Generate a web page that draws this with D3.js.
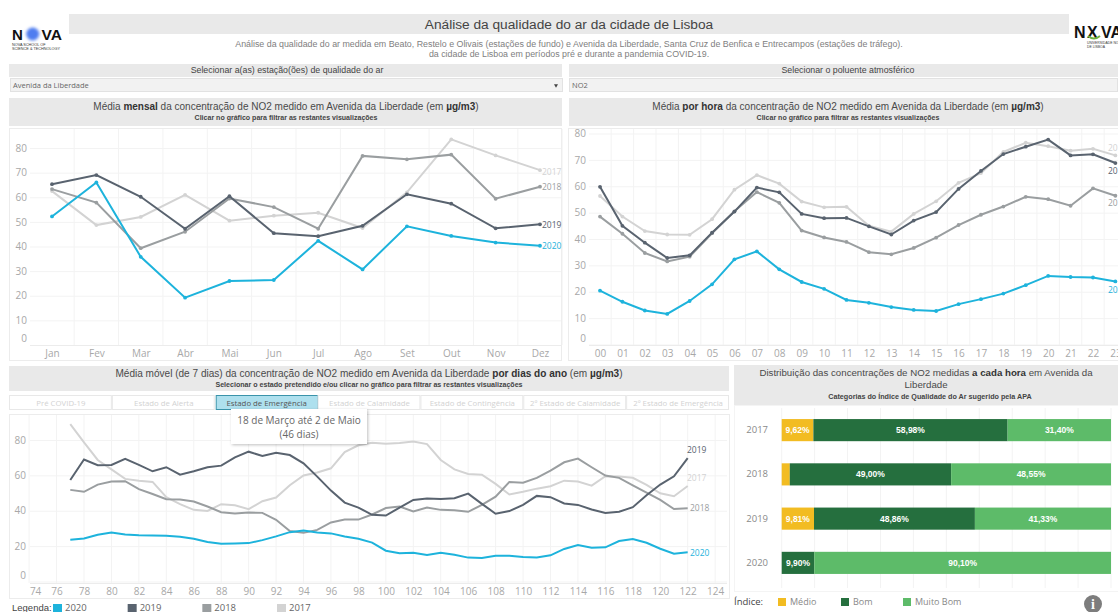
<!DOCTYPE html>
<html><head><meta charset="utf-8">
<script src="https://cdnjs.cloudflare.com/ajax/libs/d3/7.8.5/d3.min.js"></script>
<style>
html,body{margin:0;padding:0;background:#fff;overflow:hidden}
svg{display:block}
text{font-family:"Liberation Sans",Arial,sans-serif}
.tk text{font-family:"Open Sans",sans-serif;font-size:10px;fill:#a8a8a8}
</style></head><body>
<svg id="c" width="1118" height="612"></svg>
<script>
const months=["Jan","Fev","Mar","Abr","Mai","Jun","Jul","Ago","Set","Out","Nov","Dez"];
const hours=["00","01","02","03","04","05","06","07","08","09","10","11","12","13","14","15","16","17","18","19","20","21","22","23"];
const years=["2020","2019","2018","2017"];
const monthly2017=[62.5,48.7,52,61,50.5,52.5,53.7,47.5,62,83.5,77,71];
const monthly2018=[63.3,57.8,39.3,46,59.5,56,47.2,76.8,75.4,77.3,59.4,64.3];
const monthly2019=[65.3,69,60.2,47.2,60.4,45.4,44.2,48.4,61.2,57.4,47.4,49];
const monthly2020=[52.2,66,35.8,19.2,26,26.4,42.3,30.7,48.2,44.3,41.6,40.3];
const hourly2017=[56.3,48.5,43,41.7,41.6,47.5,58.7,64.2,61,54.2,52,52.2,45,42.8,49.5,54.3,61.3,65,73,76.5,75.2,73.5,74.2,71.7];
const hourly2018=[48.5,42,34.7,31.5,33.3,42.2,50.5,57.8,53.7,43.2,40.6,38.9,35,34.2,36.6,40.5,45.3,49.2,52.3,56,55.1,52.6,59.2,56.4];
const hourly2019=[59.8,45,38.6,32.8,33.8,42.4,50.4,59.5,57.7,49.5,47.9,48,44.8,41.7,47,50.2,59,65.8,72.2,75,77.7,71.7,72.1,68.8];
const hourly2020=[20.4,16.2,12.9,11.6,16.5,22.8,32.3,35.3,28.5,23.7,21.1,16.9,15.8,14.2,13.1,12.7,15.3,17.2,19.3,22.5,26,25.6,25.4,23.9];
const firstDay=77;
const daily2017=[89,78.7,68.7,63.4,58,57,56.3,47.7,43.7,40.5,39.9,43.7,43.1,40.9,45.4,47.5,54.4,59.9,61.6,64,73.2,77,78.5,77.9,78.3,79.2,77.7,68.7,63.4,60.8,60.4,55.2,49.2,50.7,52.5,53.9,57,56.5,54.2,59.5,59.3,58.6,54.6,49.9,48.2,54];
const daily2018=[51.8,50.7,54.8,56.5,56.7,52.2,49.5,46.5,46.3,45.2,42.4,39.2,38.4,39,38.8,34.9,28.5,27.5,29.2,33.4,35,35,37.9,41.5,42.4,39.6,41.8,40.5,40.3,39.4,43.3,48,56.3,55.9,58.6,62.7,67.4,69.5,64.6,59.9,58.6,54.4,50.3,46.1,41,41.4];
const daily2019=[57.4,69,65.7,65.9,69.4,65.9,62.3,64.6,60.4,62.3,64.6,65.5,70.2,73.4,71,72.8,71.5,66.8,59.3,51.4,44.6,41.8,37.7,37.3,41.8,46.1,46.9,46.7,47.1,49.7,43.9,38.3,39.8,43.3,48.4,47.7,44.1,43.3,40.7,38.8,39.4,42,48.8,54.8,59.5,69.8];
const daily2020=[23.6,24.3,26.4,27.7,26.6,26.2,26,25.8,25.3,24.2,22.3,21.3,21.5,21.7,23.4,25.5,27.9,28.8,27.7,27.2,25.5,24.2,22,17.4,16,16.3,15,16.3,15.1,13.5,13.3,14.6,14.6,13.8,13.6,14.8,18.4,20.6,19.1,19.3,22.9,24,21.9,18.5,15.7,16.5];
const days=daily2020.map((_,i)=>firstDay+i);
const dayTicks=[74,76,78,80,82,84,86,88,90,92,94,96,98,100,102,104,106,108,110,112,114,116,118,120,122,124];
const distYears=["2017","2018","2019","2020"];
const categories=["Médio","Bom","Muito Bom"];
const medio=[9.62,2.45,9.81,0];
const bom=[58.98,49.00,48.86,9.90];
const muitoBom=[31.40,48.55,41.33,90.10];
const medioLabels=["9,62%","","9,81%",""];
const bomLabels=["58,98%","49,00%","48,86%","9,90%"];
const muitoBomLabels=["31,40%","48,55%","41,33%","90,10%"];
const estados=["Pré COVID-19","Estado de Alerta","Estado de Emergência","Estado de Calamidade","Estado de Contingência","2º Estado de Calamidade","2º Estado de Emergência"];

const yearColor=d3.scaleOrdinal(years,["#1db3dc","#59636f","#9a9ea0","#d3d3d3"]);
const catColor=d3.scaleOrdinal(categories,["#f2bc22","#256f3e","#5dbb69"]);
const svg=d3.select("#c");
const HDR="#e9e9e9",TC="#4a4a4a",GRID="#f3f3f3",FRAME="#ececec";

function rect(x,y,w,h,fill,stroke){return svg.append("rect").attr("x",x).attr("y",y).attr("width",w).attr("height",h).attr("fill",fill).attr("stroke",stroke||"none");}
function text(x,y,parts,size,color,anchor,font){
  const t=svg.append("text").attr("x",x).attr("y",y).attr("font-size",size).attr("fill",color).attr("text-anchor",anchor||"middle");
  if(font)t.style("font-family",font);
  (Array.isArray(parts)?parts:[[parts,false]]).forEach(p=>{const s=t.append("tspan").text(p[0]);if(p[1])s.attr("font-weight","bold").attr("fill","#333");});
  return t;
}
// header
rect(69,14,1000,20,HDR);
text(569,29,"Análise da qualidade do ar da cidade de Lisboa",13.7,"#444");
text(569,47,"Análise da qualidade do ar medida em Beato, Restelo e Olivais (estações de fundo) e Avenida da Liberdade, Santa Cruz de Benfica e Entrecampos (estações de tráfego).",8.85,"#808080");
text(569,57,"da cidade de Lisboa em períodos pré e durante a pandemia COVID-19.",8.85,"#808080");

// logos
const defs=svg.append("defs");
defs.append("filter").attr("id","bl").attr("x","-50%").attr("y","-50%").attr("width","200%").attr("height","200%").append("feGaussianBlur").attr("stdDeviation",1.8);
const sh=defs.append("filter").attr("id","sh").attr("x","-10%").attr("y","-10%").attr("width","125%").attr("height","135%");
sh.append("feDropShadow").attr("dx",1).attr("dy",1).attr("stdDeviation",1.5).attr("flood-color","#000").attr("flood-opacity",.25);
svg.append("circle").attr("cx",32.7).attr("cy",34).attr("r",6.5).attr("fill","#4f7df0").attr("filter","url(#bl)");
text(12,39.8,"N",15,"#111","start").attr("font-weight","bold");
text(41.5,39.8,"VA",15,"#111","start").attr("font-weight","bold").attr("textLength",20.5).attr("lengthAdjust","spacingAndGlyphs");
text(12,46,"NOVA SCHOOL OF",3.8,"#333","start");
text(12,50,"SCIENCE & TECHNOLOGY",3.8,"#333","start");
text(1074,38,"N",16,"#111","start").attr("font-weight","bold");
text(1087,38,"X",16,"#111","start").attr("font-weight","bold");
svg.append("path").attr("d","M1088,36 Q1094,41 1100,36").attr("fill","none").attr("stroke","#6fb33f").attr("stroke-width",2);
text(1101,38,"VA",16,"#111","start").attr("font-weight","bold");
text(1087,43.5,"UNIVERSIDADE NOVA",3.4,"#333","start");
text(1087,47.5,"DE LISBOA",3.4,"#333","start");

// filters
rect(9,64,553,13,HDR); rect(569,64,549,13,HDR);
text(287,73,"Selecionar a(as) estação(ões) de qualidade do ar",8.8,"#444");
text(848,73,"Selecionar o poluente atmosférico",8.8,"#444");
rect(10.5,78.5,552,13,"#f2f2f2","#e2e2e2"); rect(569.5,78.5,548,13,"#f2f2f2","#e2e2e2");
text(13,88,"Avenida da Liberdade",7.5,"#666","start","'Open Sans',sans-serif");
text(572,88,"NO2",7.5,"#666","start","'Open Sans',sans-serif");
svg.append("path").attr("d",d3.symbol(d3.symbolTriangle,7)()).attr("transform","translate(556,85.5) rotate(180)").attr("fill","#444");

// panel headers
rect(9,98,553,28,HDR); rect(569,98,549,28,HDR);
text(286,110,[["Média ",0],["mensal",1],[" da concentração de NO2 medido em Avenida da Liberdade (em ",0],["µg/m3",1],[")",0]],10,TC);
text(286,120,"Clicar no gráfico para filtrar as restantes visualizações",7.05,"#444").attr("font-weight","bold");
text(848,110,[["Média ",0],["por hora",1],[" da concentração de NO2 medido em Avenida da Liberdade (em ",0],["µg/m3",1],[")",0]],10,TC);
text(848,120,"Clicar no gráfico para filtrar as restantes visualizações",7.05,"#444").attr("font-weight","bold");
rect(9.5,128.5,552,232,"#fff",FRAME); rect(568.5,128.5,560,232,"#fff",FRAME);

function styleAxis(g){g.classed("tk",true);g.select(".domain").remove();g.selectAll("line").attr("stroke",GRID);}
function zeroUp(g,dy){g.selectAll(".tick").filter(d=>d===0).select("text").attr("dy",dy);}

function linePanel(o){
  o.gridX.forEach(x=>svg.append("line").attr("x1",x).attr("x2",x).attr("y1",o.top).attr("y2",o.base).attr("stroke",GRID));
  const ga=svg.append("g").attr("transform",`translate(${o.left},0)`).call(d3.axisLeft(o.y).tickValues(o.yTicks).tickSize(-(o.right-o.left)).tickPadding(6));
  styleAxis(ga); ga.selectAll("text").attr("x",-(o.left-o.ylabelX)).attr("text-anchor","end"); zeroUp(ga,"-0.35em");
  const gb=svg.append("g").attr("transform",`translate(0,${o.base})`).call(o.xAxis.tickSize(0).tickPadding(5));
  styleAxis(gb);
  svg.append("line").attr("x1",o.left).attr("x2",o.right).attr("y1",o.base+.5).attr("y2",o.base+.5).attr("stroke",FRAME);
  const line=d3.line().x((d,i)=>o.px(o.keys[i])).y(d=>o.y(d));
  [...o.series].forEach(s=>{
    svg.append("path").datum(s.v).attr("d",line).attr("fill","none").attr("stroke",yearColor(s.n)).attr("stroke-width",o.w);
    if(o.dots)svg.append("g").selectAll("circle").data(s.v).join("circle").attr("cx",(d,i)=>o.px(o.keys[i])).attr("cy",d=>o.y(d)).attr("r",1.9).attr("fill",yearColor(s.n));
  });
  o.labels.forEach(l=>text(l.x,l.y,l.n,8.5,l.c||yearColor(l.n),"start","'Open Sans',sans-serif"));
}

// monthly
const xM=d3.scalePoint(months,[52,540]);
const yM=d3.scaleLinear([0,80],[345,148]);
linePanel({left:30,right:561,top:129,base:345,ylabelX:27,gridX:months.map(m=>xM(m)+22.2),y:yM,yTicks:[0,10,20,30,40,50,60,70,80],
  xAxis:d3.axisBottom(xM),px:d=>xM(d),keys:months,w:2,dots:true,
  series:[{n:"2017",v:monthly2017},{n:"2018",v:monthly2018},{n:"2019",v:monthly2019},{n:"2020",v:monthly2020}],
  labels:[{n:"2017",x:542,y:175},{n:"2018",x:542,y:190},{n:"2019",x:542,y:228,c:"#59636f"},{n:"2020",x:542,y:249}]});

// hourly
const xH=d3.scalePoint(hours,[600,1115.4]);
const yH=d3.scaleLinear([0,80],[344.5,133.5]);
linePanel({left:589,right:1118,top:129,base:345,ylabelX:586,gridX:hours.map(h=>xH(h)+11.2),y:yH,yTicks:[0,10,20,30,40,50,60,70,80],
  xAxis:d3.axisBottom(xH),px:d=>xH(d),keys:hours,w:2,dots:true,
  series:[{n:"2017",v:hourly2017},{n:"2018",v:hourly2018},{n:"2019",v:hourly2019},{n:"2020",v:hourly2020}],
  labels:[{n:"2017",x:1108,y:151},{n:"2019",x:1108,y:174,c:"#59636f"},{n:"2018",x:1108,y:206},{n:"2020",x:1108,y:293}]});

// daily header
rect(9,366,720,25,HDR);
text(369,377,[["Média móvel (de 7 dias) da concentração de NO2 medido em Avenida da Liberdade ",0],["por dias do ano",1],[" (em ",0],["µg/m3",1],[")",0]],10.05,TC);
text(369,387,"Selecionar o estado pretendido e/ou clicar no gráfico para filtrar as restantes visualizações",7.1,"#444").attr("font-weight","bold");

// state buttons
const xB=d3.scaleBand(estados,[9.5,729.5]);
estados.forEach((e,i)=>{
  const on=i===2;
  rect(xB(e)+(on?1:0),395.5,xB.bandwidth()-1,14,on?"#aee0ee":"#fff",on?"#3a93aa":"#e8e8e8");
  text(xB(e)+xB.bandwidth()/2,405.5,e,7.8,on?"#555":"#d2d2d2","middle","'Open Sans',sans-serif");
});

// daily
rect(9.5,414.5,720,184,"#fff",FRAME);
const xD=d3.scaleLinear([78,122],[84,687.7]);
const yD=d3.scaleLinear([0,80],[581.5,440]);
const fmtD=d3.axisBottom(xD).tickValues(dayTicks).tickFormat(d3.format("d"));
linePanel({left:30,right:727,top:415,base:583,ylabelX:26,gridX:dayTicks.map(d=>xD(d)),y:yD,yTicks:[0,20,40,60,80],
  xAxis:fmtD,px:d=>xD(d),keys:days,w:2,dots:false,
  series:[{n:"2017",v:daily2017},{n:"2018",v:daily2018},{n:"2019",v:daily2019},{n:"2020",v:daily2020}],
  labels:[{n:"2019",x:687,y:453,c:"#59636f"},{n:"2017",x:687,y:481},{n:"2018",x:690,y:511},{n:"2020",x:690,y:556}]});
svg.selectAll(".tick text").filter(d=>d===74).attr("dx",6);

// tooltip
rect(231,409,136,35,"#fff").attr("filter","url(#sh)");
text(299,424,"18 de Março até 2 de Maio",10,"#666","middle","'Open Sans',sans-serif");
text(299,438,"(46 dias)",10,"#666","middle","'Open Sans',sans-serif");

// legend
text(12,611,"Legenda:",9.5,"#444","start");
const legendX=d3.scalePoint(years,[53,277]);
years.forEach(y=>{rect(legendX(y),604,9,8,yearColor(y));text(legendX(y)+12,611,y,9.5,"#666","start","'Open Sans',sans-serif");});

// distribution
rect(734,365,384,40,HDR);
text(926,376,[["Distribuição das concentrações de NO2 medidas ",0],["a cada hora",1],[" em Avenida da",0]],9.7,TC);
text(926,388,"Liberdade",9.7,TC);
text(930,399,"Categorias do Índice de Qualidade do Ar sugerido pela APA",7.2,"#444").attr("font-weight","bold");
rect(734.5,405.5,390,186,"#fff","#f4f4f4");
const xP=d3.scaleLinear([0,100],[781.7,1111]);
const yP=d3.scaleBand(distYears,[408,585]).paddingInner(.5).paddingOuter(.25);
d3.range(0,101,10).forEach(t=>svg.append("line").attr("x1",xP(t)).attr("x2",xP(t)).attr("y1",408).attr("y2",588).attr("stroke",GRID));
const gy=svg.append("g").attr("transform","translate(781,0)").call(d3.axisLeft(yP).tickSize(0).tickPadding(13));
gy.classed("tk",true);gy.select(".domain").remove();gy.selectAll("text").style("font-size","9.5px").style("fill","#8a8a8a");
const stack=[[categories[0],medio,medioLabels],[categories[1],bom,bomLabels],[categories[2],muitoBom,muitoBomLabels]];
distYears.forEach((y,i)=>{
  let acc=0;
  stack.forEach(([c,vals,labs])=>{
    const v=vals[i];
    if(v>0){
      rect(xP(acc),yP(y),xP(acc+v)-xP(acc),yP.bandwidth(),catColor(c));
      if(labs[i])text((xP(acc)+xP(acc+v))/2,yP(y)+yP.bandwidth()/2+3,labs[i],8.5,"#fff").attr("font-weight","bold");
    }
    acc+=v;
  });
});
text(734,605,"Índice:",9.5,"#444","start","'Open Sans',sans-serif");
const idxX=d3.scaleOrdinal(categories,[778,841,903]);
categories.forEach(c=>{rect(idxX(c),598,8,8,catColor(c));text(idxX(c)+12,605,c,9,"#888","start","'Open Sans',sans-serif");});
svg.append("circle").attr("cx",1093).attr("cy",604).attr("r",9).attr("fill","#7d7d7d");
text(1093,609,"i",14,"#fff","middle","'Liberation Serif',serif").attr("font-weight","bold");
</script></body></html>
